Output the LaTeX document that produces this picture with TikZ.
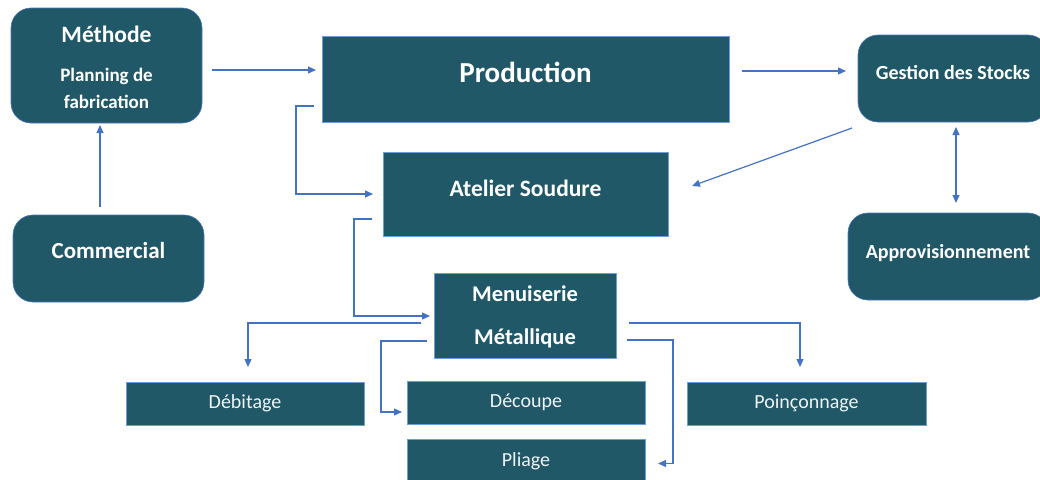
\documentclass[tikz,border=0pt]{standalone}
\usepackage{fontspec}
\setmainfont{Carlito}
\usetikzlibrary{arrows.meta,calc}

\definecolor{boxfill}{HTML}{215868}
\definecolor{boxline}{HTML}{6A9FD8}
\definecolor{rline}{HTML}{4A76C0}
\definecolor{linkc}{HTML}{4472C4}

\tikzset{
  rbox/.style={fill=boxfill, draw=rline, line width=0.6pt, rounded corners=20pt,
               anchor=north west, inner sep=0pt, outer sep=0pt},
  sbox/.style={fill=boxfill, draw=boxline, line width=1pt,
               anchor=north west, inner sep=0pt, outer sep=0pt},
  lbl/.style={text=white, font=\bfseries, anchor=base, inner sep=0pt},
  sublbl/.style={text=white!93!boxfill, anchor=base, inner sep=0pt,
                 font=\fontsize{20}{24}\selectfont},
  conn/.style={draw=linkc, line width=1.2pt,
               -{Triangle[length=8pt,width=7pt]}},
  biconn/.style={draw=linkc, line width=1.2pt,
               {Triangle[length=8pt,width=7pt]}-{Triangle[length=8pt,width=7pt]}}
}

\begin{document}
\begin{tikzpicture}[x=1pt,y=-1pt]
\clip (0,0) rectangle (1040,479);
\fill[white] (0,0) rectangle (1040,479);

% --- boxes
\node[rbox, minimum width=191pt, minimum height=115pt] (meth) at (11,8) {};
\node[rbox, minimum width=191pt, minimum height=87pt]  (comm) at (13,215) {};
\node[sbox, minimum width=407pt, minimum height=86pt]  (prod) at (322,36) {};
\node[sbox, minimum width=285pt, minimum height=84pt]  (atel) at (383,152) {};
\node[rbox, minimum width=190pt, minimum height=87pt]  (gest) at (858,35) {};
\node[rbox, minimum width=200pt, minimum height=87pt]  (appr) at (848,213) {};
\node[sbox, minimum width=182pt, minimum height=85pt]  (menu) at (434,273) {};
\node[sbox, minimum width=238pt, minimum height=43pt]  (debi) at (126,382) {};
\node[sbox, minimum width=238pt, minimum height=43pt]  (deco) at (407,381) {};
\node[sbox, minimum width=238pt, minimum height=50pt]  (plia) at (407,439) {};
\node[sbox, minimum width=239pt, minimum height=43pt]  (poin) at (687,382) {};

% --- labels
\node[lbl, font=\bfseries\fontsize{23.5}{28}\selectfont] (methA) at (106.5,42) {Méthode};
\node[lbl, font=\bfseries\fontsize{19}{23}\selectfont] (methB) at (106.5,81) {Planning de};
\node[lbl, font=\bfseries\fontsize{19}{23}\selectfont] (methC) at (106.5,108) {fabrication};
\node[lbl, font=\bfseries\fontsize{23}{28}\selectfont] (commT) at (108.5,258) {Commercial};
\node[lbl, font=\bfseries\fontsize{29}{34}\selectfont] (prodT) at (525.5,82) {Production};
\node[lbl, font=\bfseries\fontsize{23.5}{28}\selectfont] (atelT) at (525.5,196) {Atelier Soudure};
\node[lbl, font=\bfseries\fontsize{20}{24}\selectfont] (gestT) at (953,79) {Gestion des Stocks};
\node[lbl, font=\bfseries\fontsize{20}{24}\selectfont] (apprT) at (948,258) {Approvisionnement};
\node[lbl, font=\bfseries\fontsize{22.5}{27}\selectfont] (menuA) at (525,301) {Menuiserie};
\node[lbl, font=\bfseries\fontsize{22.5}{27}\selectfont] (menuB) at (525,344) {Métallique};
\node[sublbl] (debiT) at (245,408) {Débitage};
\node[sublbl] (decoT) at (526,407) {Découpe};
\node[sublbl] (pliaT) at (526,466) {Pliage};
\node[sublbl] (poinT) at (806.5,408) {Poinçonnage};

% --- connectors
\draw[conn] ([shift={(10,4.5)}]meth.east) -- ([shift={(-6,-9)}]prod.west);
\draw[conn] ([shift={(-8.5,-8)}]comm.north) -- ([shift={(-6.5,2)}]meth.south);
\draw[conn] ([shift={(13,-8)}]prod.east) -- ([shift={(-12,-7.5)}]gest.west);
\draw[conn] ([shift={(-6,6)}]gest.south west) -- ([shift={(24,-8)}]atel.east);
\draw[biconn] ([shift={(3,5)}]gest.south) -- ([shift={(8,-10)}]appr.north);
\draw[conn] ([shift={(-8,27)}]prod.west) -- ++(-18,0) |- ([shift={(-10,0)}]atel.west);
\draw[conn] ([shift={(-11,25)}]atel.west) -- ++(-18,0) |- ([shift={(-4,0.5)}]menu.west);
\draw[conn] ([shift={(-13,7.5)}]menu.west) -| ([shift={(3,-15)}]debi.north);
\draw[conn] ([shift={(-7,25.5)}]menu.west) -- ++(-46,0) |- ([shift={(-5,9.5)}]deco.west);
\draw[conn] ([shift={(13,7.5)}]menu.east) -| ([shift={(-6.5,-15)}]poin.north);
\draw[conn] ([shift={(11,24.5)}]menu.east) -- ++(46,0) |- ([shift={(13,-0.5)}]plia.east);
\end{tikzpicture}
\end{document}
